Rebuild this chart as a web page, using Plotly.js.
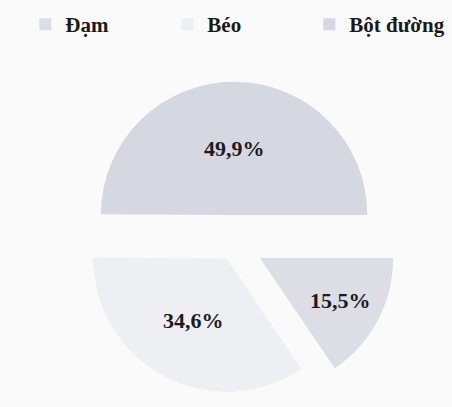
<!DOCTYPE html>
<html>
<head>
<meta charset="utf-8">
<script src="https://cdn.plot.ly/plotly-3.0.1.min.js"></script>
<style>html,body{margin:0;padding:0;background:#fafafa;}#chart{width:452px;height:407px;}</style>
</head>
<body>
<div id="chart"></div>
<script>
// Data
var labels = ['Đạm', 'Béo', 'Bột đường'];
var values = [15.5, 34.6, 49.9];
var sliceColors = ['#dcdde5', '#eeeff3', '#d6d8e1'];
var pulls = [0.22, 0.12, 0.22];

var trace = {
  type: 'pie',
  labels: labels,
  values: values,
  sort: false,
  direction: 'clockwise',
  rotation: 90,
  pull: pulls,
  marker: {colors: sliceColors, line: {width: 0}},
  textposition: 'inside',
  insidetextorientation: 'horizontal',
  texttemplate: '%{value:.1f}%',
  textfont: {family: 'Liberation Serif, Times New Roman, serif', size: 22, color: '#1c1c1c', weight: 'bold'},
  hoverinfo: 'label+value',
  domain: {x: [0.158, 0.8774], y: [0, 0.7995]}
};

var layout = {
  width: 452,
  height: 407,
  margin: {l: 0, r: 0, t: 0, b: 0},
  paper_bgcolor: '#fafafa',
  plot_bgcolor: '#fafafa',
  separators: ',.',
  showlegend: true,
  legend: {
    orientation: 'h',
    x: 0.056, y: 0.99, xanchor: 'left', yanchor: 'top',
    font: {family: 'Liberation Serif, Times New Roman, serif', size: 21, color: '#1a1a1a', weight: 'bold'},
    entrywidth: 97,
    entrywidthmode: 'pixels',
    traceorder: 'normal',
    bgcolor: 'rgba(0,0,0,0)'
  }
};

Plotly.newPlot('chart', [trace], layout, {displayModeBar: false, staticPlot: true});
</script>
</body>
</html>
